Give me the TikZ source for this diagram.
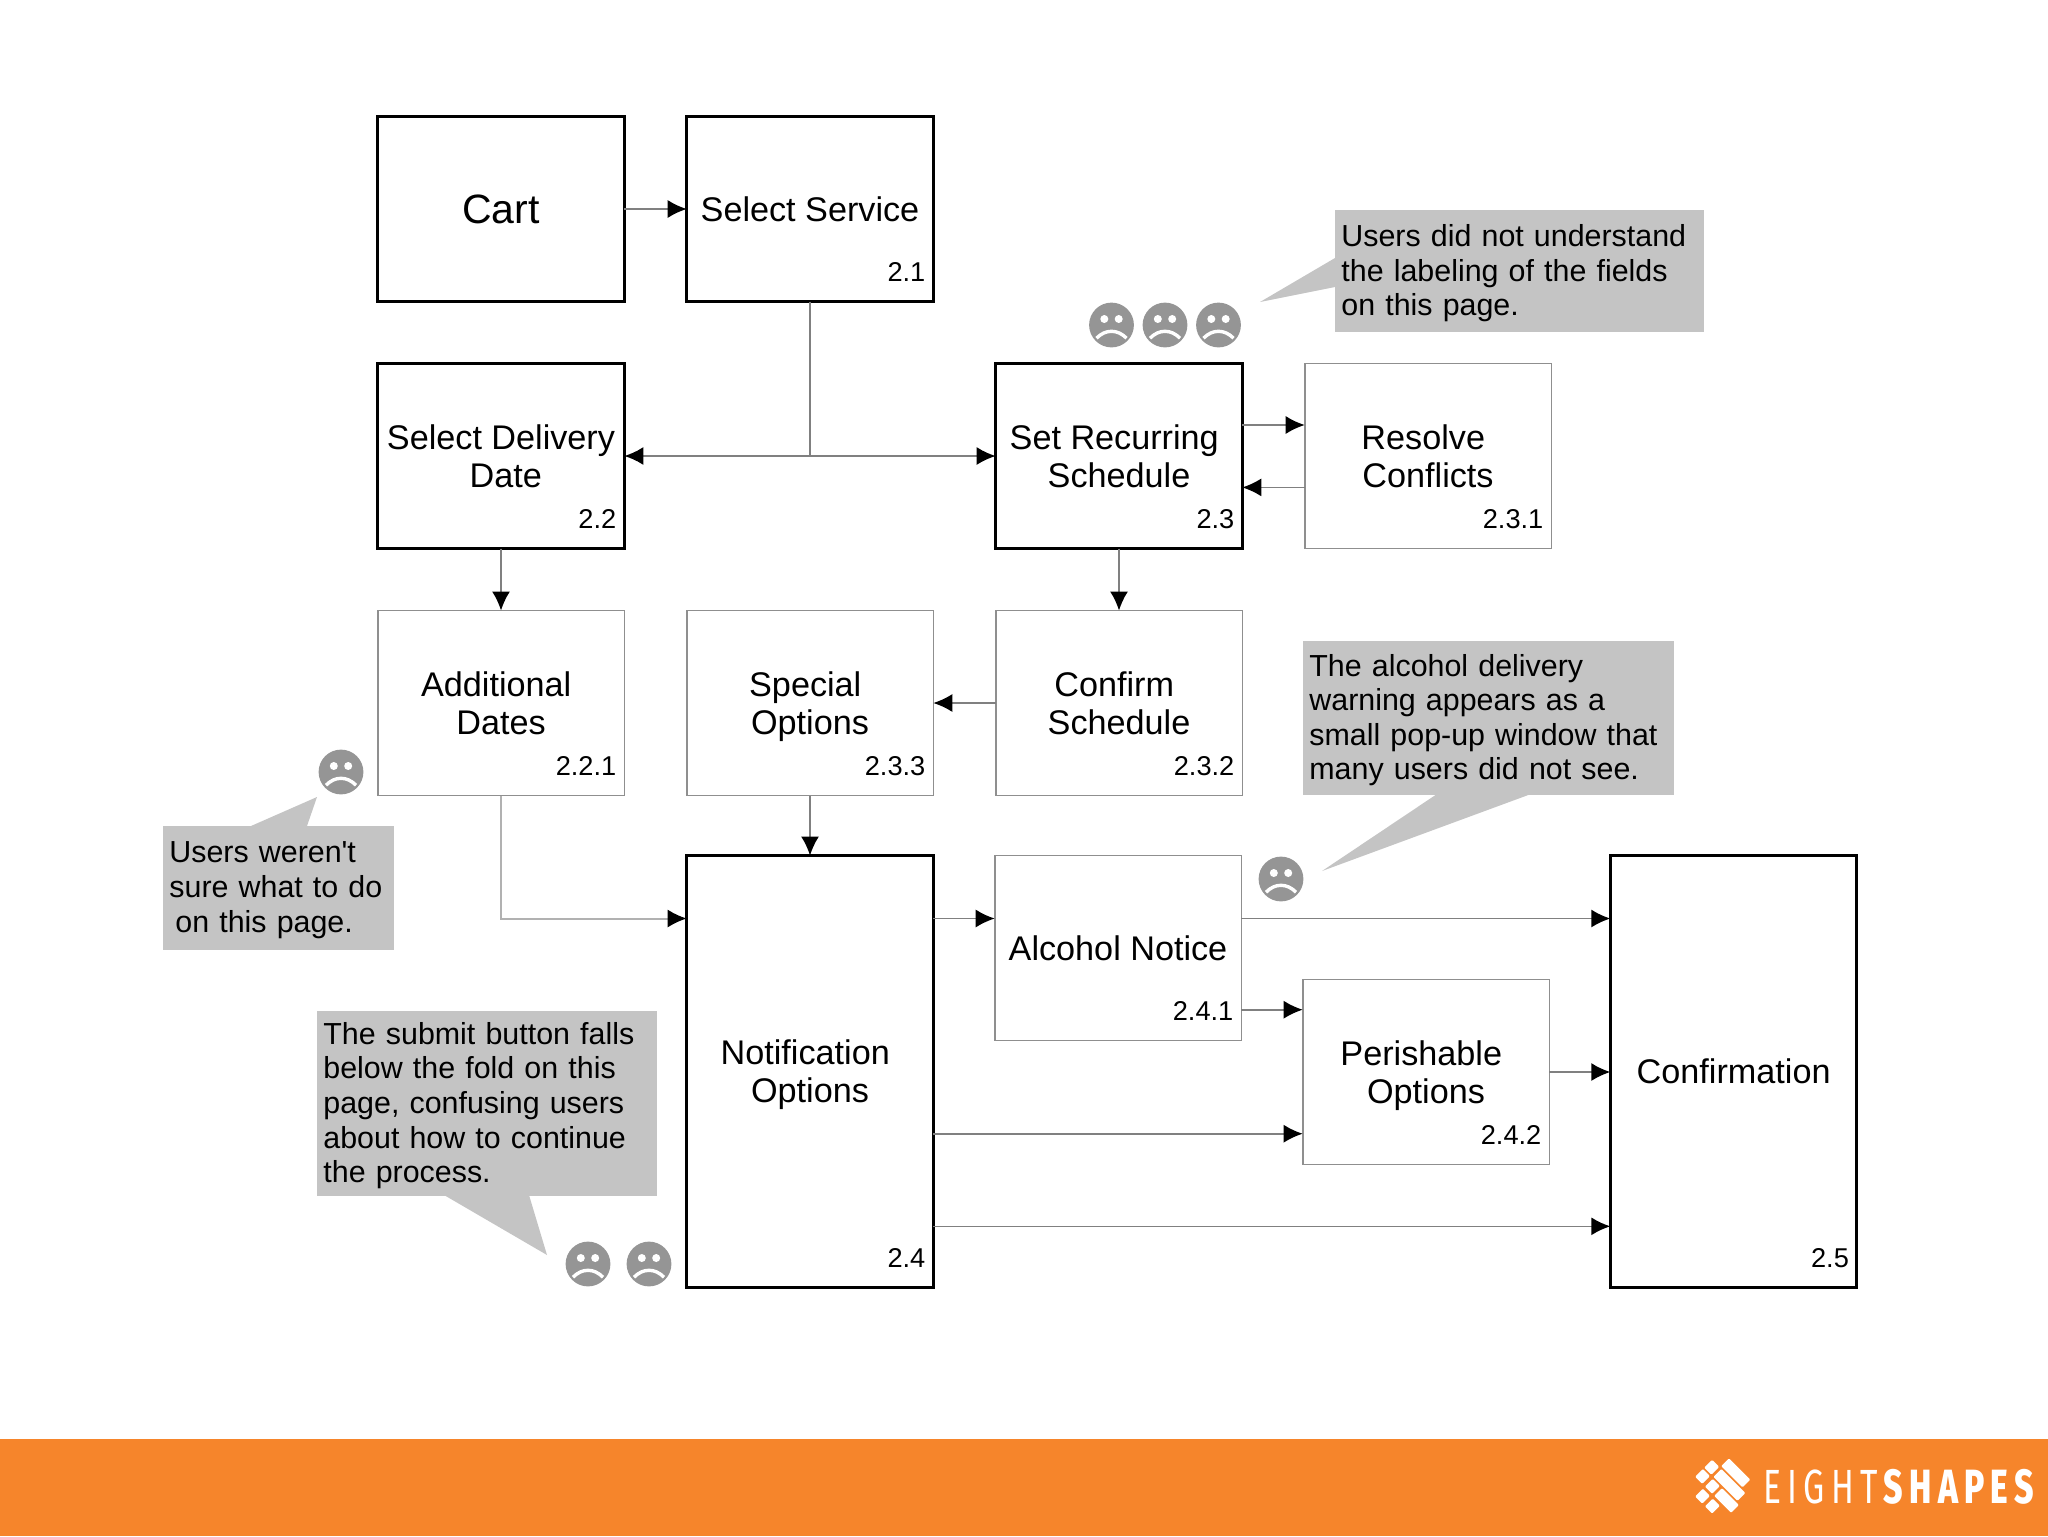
\documentclass[tikz,border=0pt]{standalone}
\usepackage{fontspec}
\setmainfont{Liberation Sans}
\newfontfamily\logofont{Fira Sans}[FakeStretch=0.7,LetterSpace=13,BoldFont={Fira Sans ExtraBold}]
\usetikzlibrary{arrows.meta,positioning,calc}
\definecolor{orangeband}{HTML}{F6852B}
\definecolor{notegray}{HTML}{C4C4C4}
\definecolor{facegray}{HTML}{959595}
\definecolor{linegray}{HTML}{808080}
\definecolor{thingray}{HTML}{8F8F8F}
\newcommand{\trail}{\hspace*{.278em}}
\newcommand{\nodepth}[1]{\raisebox{0pt}[\height][0pt]{#1}}

\begin{document}
\begin{tikzpicture}[x=0.5pt,y=-0.5pt,
  node distance=31pt and 31.2pt,
  mainbox/.style={draw=black,line width=1.5pt,fill=white,minimum width=123.3pt,
    minimum height=92.5pt,align=center,font=\fontsize{17.1}{19}\selectfont,outer sep=0pt},
  thinbox/.style={mainbox,draw=thingray,line width=0.8pt},
  tallbox/.style={mainbox,minimum height=216pt},
  num/.style={anchor=south east,inner sep=0pt,xshift=-3.8pt,yshift=9.8pt,font=\fontsize{13.6}{15}\selectfont},
  note/.style={fill=notegray,anchor=north west,align=left,inner sep=3.2pt,outer sep=0pt,
    font=\fontsize{15.2}{17.3}\selectfont,execute at begin node={\rule{0pt}{13.2pt}\ignorespaces}},
  tail/.style={fill=notegray},
  arr/.style={-{Latex[length=9.5pt,width=9pt,black]},line width=0.8pt,linegray},
  sad/.pic={
    \fill[facegray] (0,0) circle (11.2pt);
    \fill[white] (-3.6pt,3pt) circle (2pt) (3.6pt,3pt) circle (2pt);
    \draw[white,line width=1.7pt] (-7.5pt,-6.6pt) .. controls (-3pt,-2pt) and (3pt,-2pt) .. (7.5pt,-6.6pt);
  }]
\useasboundingbox (0,0) rectangle (2048,1536);
\fill[orangeband] (0,1439) rectangle (2048,1536);

% main rows
\node[mainbox,font=\fontsize{20.5}{23}\selectfont] (cart) at (501,209) {Cart};
\node[mainbox,right=of cart] (service) {Select Service};
\node[mainbox,below=of cart] (delivery) {Select Delivery\\\trail Date};
\node[mainbox,right=of service.south east,anchor=north west,yshift=-31pt] (recur) {Set Recurring\trail\\Schedule};
\node[thinbox,right=of recur] (resolve) {Resolve\trail\\Conflicts};
\node[thinbox,below=of delivery] (dates) {Additional\trail\\Dates};
\node[thinbox,below=of recur] (confirm) {Confirm\trail\\Schedule};
\node[thinbox,left=of confirm] (special) {Special\trail\\\nodepth{Options}};
\node[tallbox,below=30pt of special] (notify) {Notification\trail\\\nodepth{Options}};
\node[thinbox,right=30.7pt of notify.north east,anchor=north west] (alcohol) {Alcohol Notice};
\node[thinbox] (perish) at (1426,1072) {Perishable\trail\\\nodepth{Options}};
\node[tallbox,right=184.5pt of alcohol.north east,anchor=north west] (finish) {Confirmation};

% numbers
\node[num] (n21) at (service.south east) {2.1};
\node[num] (n22) at (delivery.south east) {2.2};
\node[num] (n23) at (recur.south east) {2.3};
\node[num] (n231) at (resolve.south east) {2.3.1};
\node[num] (n221) at (dates.south east) {2.2.1};
\node[num] (n232) at (confirm.south east) {2.3.2};
\node[num] (n233) at (special.south east) {2.3.3};
\node[num] (n24) at (notify.south east) {2.4};
\node[num] (n241) at (alcohol.south east) {2.4.1};
\node[num] (n242) at (perish.south east) {2.4.2};
\node[num] (n25) at (finish.south east) {2.5};

% connectors
\coordinate (split) at (service.south |- delivery.east);
\coordinate (band) at ([yshift=-31.5pt]notify.north east);
\coordinate (low) at ([yshift=15.4pt]alcohol.south east);
\coordinate (mid) at ([yshift=15.4pt]perish.south west);
\draw[arr] (cart)--(service);
\draw[line width=1pt,linegray] (service.south)--(split);
\draw[arr,line width=1pt] (split)--(delivery.east);
\draw[arr,line width=1pt] (split)--(recur.west);
\draw[arr] ([yshift=15.5pt]recur.east)--([yshift=15.5pt]resolve.west);
\draw[arr] ([yshift=-15.7pt]resolve.west)--([yshift=-15.7pt]recur.east);
\draw[arr] (delivery)--(dates);
\draw[arr] (recur)--(confirm);
\draw[arr] (confirm)--(special);
\draw[arr] (special)--(notify);
\draw[arr,line width=1pt,draw=thingray!70] (dates.south) |- (band -| notify.west);
\draw[arr] (band)--(band -| alcohol.west);
\draw[arr] (band -| alcohol.east)--(band -| finish.west);
\draw[arr] (low)--(low -| perish.west);
\draw[arr] (perish.east)--(perish.east -| finish.west);
\draw[arr] (mid -| notify.east)--(mid);
\draw[arr] ([yshift=-77.4pt]notify.east)--([yshift=-77.4pt]finish.west);

% comments
\fill[tail] (1335,258)--(1260,302)--(1335,287)--cycle;
\node[note,text width=178.1pt,minimum height=61pt] (labeling) at (1335,210)
  {Users did not understand\\the labeling of the fields\\on this page.};
\fill[tail] (251,826)--(317,797)--(307,826)--cycle;
\node[note,text width=109.1pt,minimum height=62pt] (unsure) at (163,825.5)
  {Users weren\textquotesingle t\\sure what to do\\\hspace*{3pt}on this page.};
\fill[tail] (444,1195)--(547,1255)--(529,1195)--cycle;
\node[note,text width=163.6pt,minimum height=92.5pt] (submit) at (317,1011)
  {The submit button falls\\below the fold on this\\page, confusing users\\about how to continue\\the process.};
\fill[tail] (1437,794)--(1322,871)--(1531,794)--cycle;
\node[note,text width=179.1pt,minimum height=77pt] (warning) at (1303,641)
  {The alcohol delivery\\warning appears as a\\small pop-up window that\\many users did not see.};

% faces
\pic at (1111.5,325) {sad};
\pic at (1165,325) {sad};
\pic at (1218.5,325) {sad};
\pic at (341,772) {sad};
\pic at (1281,879) {sad};
\pic at (588,1264) {sad};
\pic at (649,1264) {sad};

% logo
\begin{scope}[shift={(1723,1487)},rotate=-45]
  \foreach \r/\s/\e in {-19/-16/14,-6/-27/-17,-6/-14/20,7/-27/-17,7/-13/-3,7/0/24,21/-13/-3,21/1/11}
    \fill[white,rounded corners=0.5pt] (\s,\r-5.5) rectangle (\e,\r+5.5);
\end{scope}
\node[anchor=west,inner sep=0pt,text=white,font=\fontsize{24}{24}\logofont] (logo) at (1763,1487)
  {EIGHT\textbf{SHAPES}};
\end{tikzpicture}
\end{document}
